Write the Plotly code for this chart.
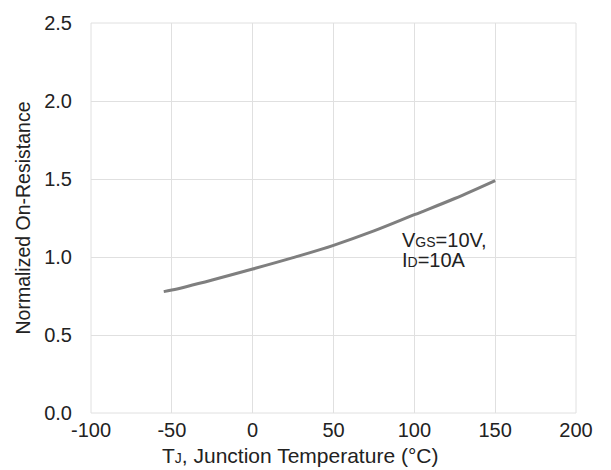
import plotly.graph_objects as go

temps = [-55, -50, -25, 0, 25, 50, 75, 100, 125, 150]
rds_norm = [0.778, 0.788, 0.853, 0.923, 0.996, 1.075, 1.167, 1.271, 1.375, 1.49]
x_ticks = [-100, -50, 0, 50, 100, 150, 200]
y_ticks = [0.0, 0.5, 1.0, 1.5, 2.0, 2.5]

FONT = "Liberation Sans, Arial"
GRID = "#e0e0e0"
TXT = "#222222"

fig = go.Figure()
fig.add_trace(go.Scatter(x=temps, y=rds_norm, mode="lines",
                         line=dict(color="#7f7f7f", width=3, shape="spline"),
                         showlegend=False, hoverinfo="skip"))

fig.add_annotation(x=91, y=1.111, xanchor="left", yanchor="middle", showarrow=False,
                   text="V<span style='font-size:14px'>GS</span>=10V,",
                   font=dict(family=FONT, size=20, color=TXT))
fig.add_annotation(x=91, y=0.979, xanchor="left", yanchor="middle", showarrow=False,
                   text="I<span style='font-size:14px'>D</span>=10A",
                   font=dict(family=FONT, size=20, color=TXT))

# x-axis title (centred on the whole chart as in the reference)
fig.add_annotation(xref="paper", yref="paper", x=0.431, y=0, xanchor="center", yanchor="top",
                   yshift=-29, showarrow=False,
                   text="T<span style='font-size:14px'>J</span>, Junction Temperature (°C)",
                   font=dict(family=FONT, size=21, color=TXT))

fig.update_layout(
    width=611, height=470,
    margin=dict(l=91, r=35, t=13, b=57),
    plot_bgcolor="white", paper_bgcolor="white",
    font=dict(family=FONT, size=20, color=TXT),
    xaxis=dict(range=[-100, 200], tickvals=x_ticks, ticktext=[str(v) for v in x_ticks],
               showgrid=True, gridcolor=GRID, gridwidth=1, zeroline=False,
               showline=False, ticks="", ticklabelstandoff=3,
               tickfont=dict(size=20)),
    yaxis=dict(range=[0, 2.5], tickvals=y_ticks, ticktext=[f"{v:.1f}" for v in y_ticks],
               showgrid=True, gridcolor=GRID, gridwidth=1, zeroline=False,
               showline=False, ticks="", ticklabelstandoff=18,
               title=dict(text="Normalized On-Resistance", standoff=8, font=dict(size=19.5)),
               tickfont=dict(size=20)),
)
fig.add_shape(type="rect", xref="paper", yref="paper", x0=0, x1=1, y0=0, y1=1,
              line=dict(color=GRID, width=1), layer="below")

fig.write_html("out.html")
